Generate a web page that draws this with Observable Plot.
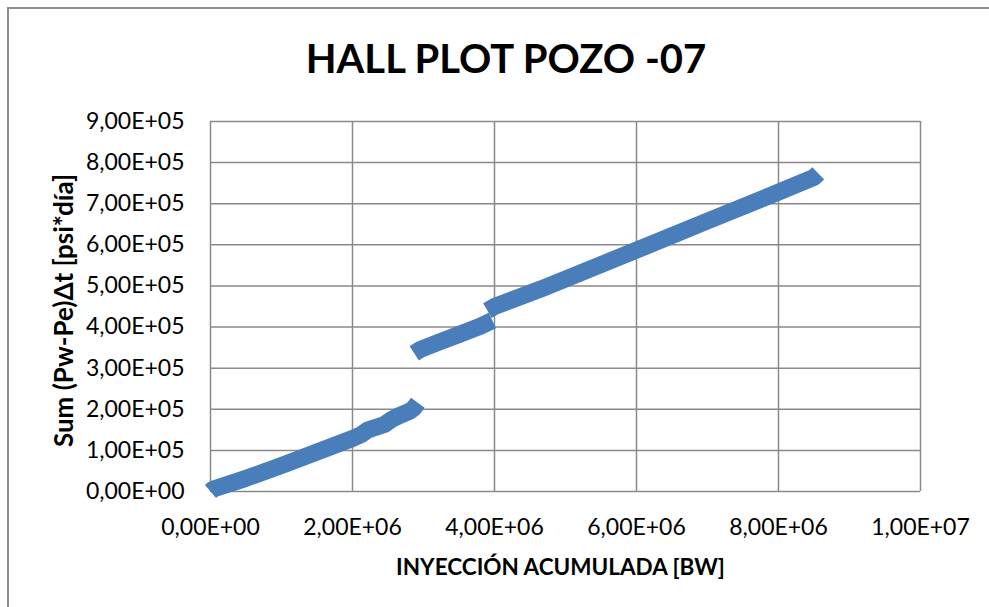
<!DOCTYPE html>
<html>
<head>
<meta charset="utf-8">
<script src="https://cdn.jsdelivr.net/npm/d3@7"></script>
<script src="https://cdn.jsdelivr.net/npm/@observablehq/plot@0.6"></script>
<style>
  html, body { margin: 0; padding: 0; background: #fff; }
  #wrap { position: relative; width: 989px; height: 607px; overflow: hidden; background: #fff; font-family: Lato, "Open Sans", sans-serif; }
  #frame { position: absolute; left: 7px; top: 7px; width: 1100px; height: 800px; border: 2px solid #8e8e8e; box-sizing: border-box; z-index: 5; pointer-events: none; background: transparent; }
  #title { position: relative; height: 100px; box-sizing: border-box; padding-top: 38px; padding-left: 23px; text-align: center; font: bold 40px/40px Lato, sans-serif; color: #000; }
  #chart { position: relative; }
  #chart svg { display: block; }
</style>
</head>
<body>
<div id="wrap">
  <div id="frame"></div>
  <div id="title">HALL PLOT POZO -07</div>
  <div id="chart"></div>
</div>
<script>
// Segment 1
const seg1X = [0, 0.04e6, 0.5e6, 1.0e6, 1.5e6, 2.0e6, 2.12e6, 2.22e6, 2.45e6, 2.55e6, 2.65e6, 2.8e6, 2.86e6, 2.92e6];
const seg1Y = [0, 0.06e5, 0.32e5, 0.63e5, 0.96e5, 1.29e5, 1.38e5, 1.5e5, 1.63e5, 1.75e5, 1.84e5, 1.95e5, 2.02e5, 2.16e5];
// Segment 2
const seg2X = [2.87e6, 2.95e6, 3.2e6, 3.5e6, 3.8e6, 3.97e6];
const seg2Y = [3.36e5, 3.45e5, 3.62e5, 3.82e5, 4.02e5, 4.16e5];
// Segment 3
const seg3X = [3.9e6, 4.0e6, 4.66e6, 6.0e6, 7.0e6, 8.0e6, 8.5e6, 8.56e6];
const seg3Y = [4.4e5, 4.5e5, 4.93e5, 5.87e5, 6.58e5, 7.28e5, 7.64e5, 7.74e5];

const xTicks = [0, 2e6, 4e6, 6e6, 8e6, 1e7];
const yTicks = [0, 1e5, 2e5, 3e5, 4e5, 5e5, 6e5, 7e5, 8e5, 9e5];

const xLabel = "INYECCIÓN ACUMULADA [BW]";
const yLabel = "Sum (Pw-Pe)Δt [psi*día]";

function fmt(v) {
  const [m, e] = v.toExponential(2).split("e");
  const sign = e[0];
  const digits = e.slice(1).padStart(2, "0");
  return m.replace(".", ",") + "E" + sign + digits;
}

const data = [];
[[seg1X, seg1Y], [seg2X, seg2Y], [seg3X, seg3Y]].forEach(([xs, ys], s) => {
  xs.forEach((x, i) => data.push({seg: s, x, y: ys[i]}));
});

const chart = Plot.plot({
  width: 989,
  height: 507,
  marginTop: 21,
  marginBottom: 116,
  marginLeft: 210,
  marginRight: 69,
  style: {fontFamily: "Lato, 'Open Sans', sans-serif", fontSize: "23px", color: "#000", background: "transparent", overflow: "visible"},
  x: {domain: [0, 1e7]},
  y: {domain: [0, 9e5]},
  marks: [
    Plot.gridX(xTicks, {stroke: "#8a8a8a", strokeOpacity: 1, strokeWidth: 1.5}),
    Plot.gridY(yTicks, {stroke: "#8a8a8a", strokeOpacity: 1, strokeWidth: 1.5}),
    Plot.axisX(xTicks, {tickSize: 0, tickPadding: 27, tickFormat: fmt, label: null, fontSize: 23}),
    Plot.axisY(yTicks, {tickSize: 0, tickPadding: 26, tickFormat: fmt, label: null, fontSize: 23}),
    Plot.line(data, {x: "x", y: "y", z: "seg", stroke: "#4a7ebb", strokeWidth: 17, strokeLinejoin: "round", strokeLinecap: "butt"}),
    Plot.text([xLabel], {frameAnchor: "bottom", textAnchor: "middle", lineAnchor: "middle", dx: -5, dy: 76, fontSize: 22.5, fontWeight: "bold", fill: "#000"}),
    Plot.text([yLabel], {frameAnchor: "left", textAnchor: "middle", lineAnchor: "middle", dx: -146, dy: 4, rotate: -90, fontSize: 26, fontWeight: "bold", fill: "#000"})
  ]
});
document.getElementById("chart").appendChild(chart);
</script>
</body>
</html>
